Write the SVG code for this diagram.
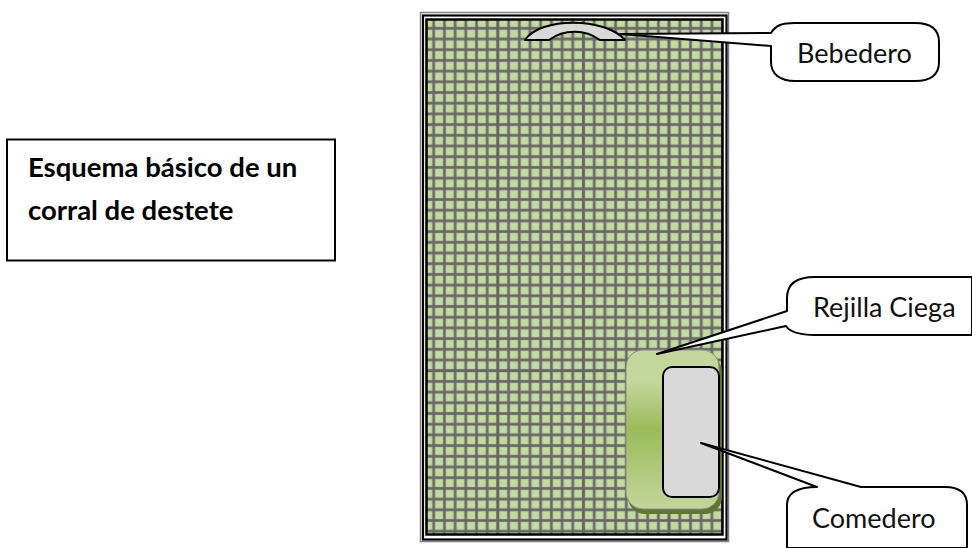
<svg xmlns="http://www.w3.org/2000/svg" width="972" height="548" viewBox="0 0 972 548">
<style>
.t{font-family:"Lato","Open Sans",sans-serif;fill:#000;font-size:27.500px;font-weight:700}
.lab{font-family:"Lato","Open Sans",sans-serif;font-size:27px;fill:#111}
.c{fill:#fff;stroke:#000;stroke-width:2;stroke-linejoin:round}
.maj{stroke:#666;stroke-width:2.400;fill:none}
</style>
<defs>
<pattern id="grid" patternUnits="userSpaceOnUse" x="439.05" y="365.35" width="10.7" height="10.7">
<rect width="10.7" height="10.7" fill="#c6d9a0"/>
<path d="M0 5.35H10.7M5.35 0V10.7" stroke="#a5b292" stroke-width="3.6" fill="none"/>
<path d="M0 5.35H10.7M5.35 0V10.7" stroke="#666" stroke-width="2.200" fill="none"/>
</pattern>
<linearGradient id="g" x1="0" y1="0" x2="0" y2="1">
<stop offset="0" stop-color="#c3d69b"/><stop offset="0.2" stop-color="#c3d69b"/><stop offset="0.5" stop-color="#9bbb59"/><stop offset="1" stop-color="#c3d69b"/>
</linearGradient>
</defs>
<rect width="972" height="548" fill="#fff"/>
<g id="titulo">
<rect x="7" y="139.500" width="328" height="121" fill="#fff" stroke="#000" stroke-width="2"/>
<text class="t" x="28" y="177">Esquema básico de un</text>
<text class="t" x="28" y="220">corral de destete</text>
</g>
<g id="corral">
<rect x="420.500" y="12.500" width="308" height="529" fill="#fff" stroke="#808080" stroke-width="1.500"/>
<rect x="423" y="15.500" width="303.500" height="524" fill="#fff" stroke="#000" stroke-width="2.200"/>
<rect x="426.500" y="19.500" width="296" height="515" fill="url(#grid)" stroke="#000" stroke-width="2.500"/>
<path class="maj" d="M497.700 21V533M583.300 21V533M668.900 21V533M428 370.700H721"/>
</g>
<g id="rejilla">
<rect x="628" y="355" width="94" height="159" rx="17" fill="#5f7530"/>
<rect x="626" y="350" width="93" height="159" rx="17" fill="url(#g)" stroke="#8a8a8a" stroke-width="1"/>
</g>
<g id="comedero">
<rect x="663" y="367" width="56" height="130" rx="9" fill="#d9d9d9" stroke="#000" stroke-width="2"/>
</g>
<g id="bebedero">
<path d="M525 40C540 17 605 17 625 40H600C585 29 564 29 549 40Z" fill="#d9d9d9" stroke="#000" stroke-width="2" stroke-linejoin="round"/>
</g>
<g id="connectors">
<path class="c" d="M771 33C776 25 782 23 795 23H915C932 23 939 30 939 42V62C939 74 932 81 915 81H795C780 81 771 74 771 62V46L620 34Z"/>
<path class="c" d="M787 311V298C787 284 797 277 815 277H972V335H815C798 335 790 332 786 326L657 354Z"/>
<path class="c" d="M701 443L817 487C800 487 787 491 787 505V548H967V505C967 492 958 487 945 487H861Z"/>
</g>
<g id="lab-bebedero"><text class="lab" x="797" y="63">Bebedero</text></g>
<g id="lab-rejilla"><text class="lab" x="813" y="317">Rejilla Ciega</text></g>
<g id="lab-comedero"><text class="lab" x="812" y="528">Comedero</text></g>
</svg>
